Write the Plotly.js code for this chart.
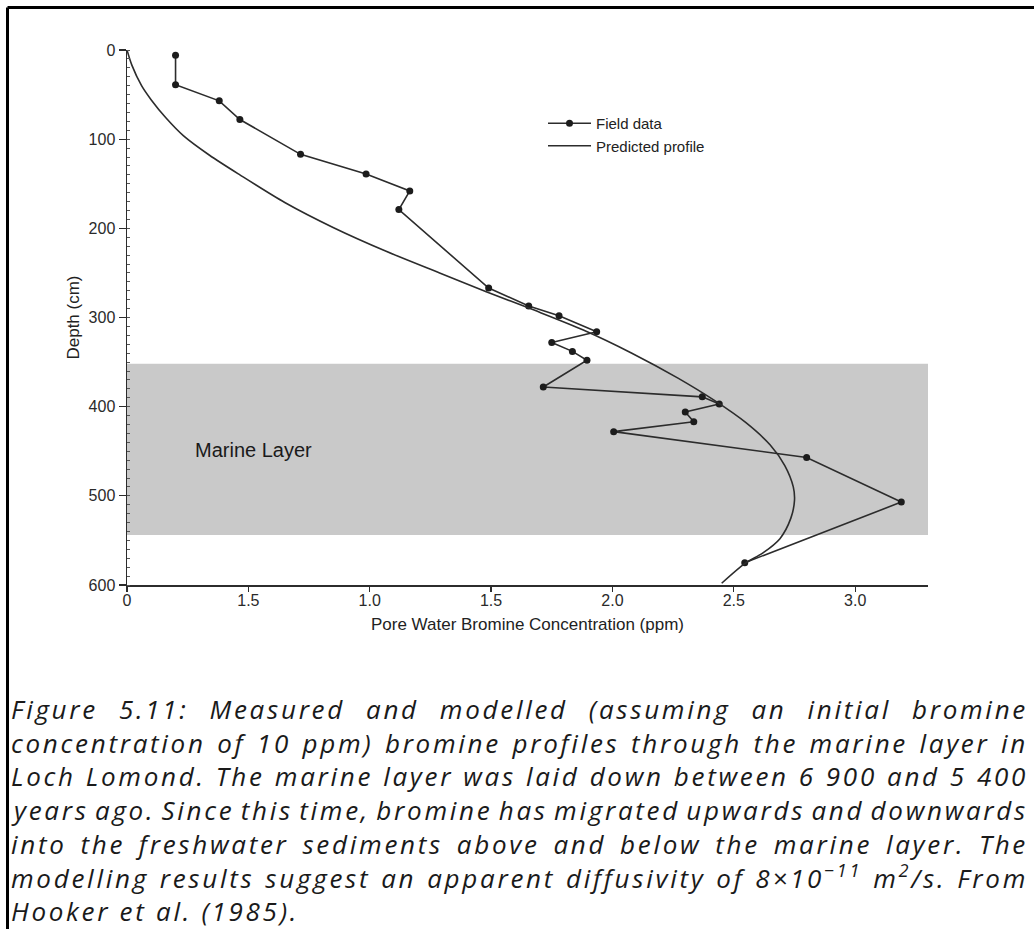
<!DOCTYPE html>
<html>
<head>
<meta charset="utf-8">
<script src="https://cdn.plot.ly/plotly-3.0.1.min.js"></script>
<style>
  html, body { margin: 0; padding: 0; background: #ffffff; }
  #chart { width: 1034px; height: 929px; }
</style>
</head>
<body>
<div id="chart"></div>
<script>
// ---------- data ----------
const fieldConc  = [0.20, 0.20, 0.38, 0.465, 0.715, 0.985, 1.165, 1.12, 1.49, 1.655, 1.78, 1.935, 1.75, 1.835, 1.895, 1.715, 2.37, 2.44, 2.30, 2.335, 2.005, 2.80, 3.19, 2.545];
const fieldDepth = [6, 39, 57, 78, 117, 139, 158, 179, 267, 287, 298, 316, 328, 338, 348, 378, 389, 397, 406, 417, 428, 457, 507, 575];

const predConc  = [0, 0.02, 0.06, 0.10, 0.16, 0.232, 0.34, 0.465, 0.65, 0.849, 1.07, 1.288, 1.48, 1.68, 1.88, 2.08, 2.27, 2.42, 2.55, 2.65, 2.71, 2.745, 2.75, 2.735, 2.69, 2.62, 2.545, 2.45];
const predDepth = [0, 17, 40, 56, 76, 96, 118, 140, 171, 199, 226, 250, 271, 292, 314, 340, 368, 393, 418, 443, 466, 490, 505, 525, 548, 564, 576, 598];

const marineLayerDepth = [352, 544];
const xTickVals = [0, 0.5, 1.0, 1.5, 2.0, 2.5, 3.0];
const xTickText = ['0', '1.5', '1.0', '1.5', '2.0', '2.5', '3.0'];
const yTickVals = [0, 100, 200, 300, 400, 500, 600];
const seriesNames = ['Field data', 'Predicted profile'];
const xTitle = 'Pore Water Bromine Concentration (ppm)';
const yTitle = 'Depth (cm)';
const layerLabel = 'Marine Layer';

const captionLines = [
  'Figure 5.11: Measured and modelled (assuming an initial bromine',
  'concentration of 10 ppm) bromine profiles through the marine layer in',
  'Loch Lomond. The marine layer was laid down between 6 900 and 5 400',
  'years ago. Since this time, bromine has migrated upwards and downwards',
  'into the freshwater sediments above and below the marine layer. The',
  'modelling results suggest an apparent diffusivity of 8×10<sup>−11</sup> m<sup>2</sup>/s. From',
  'Hooker et al. (1985).'
];

// ---------- geometry ----------
const W = 1034, H = 929;
const M = { l: 127, r: 106, t: 50, b: 344 };
const plotW = W - M.l - M.r, plotH = H - M.t - M.b;
const px2paperX = px => (px - M.l) / plotW;
const px2paperY = py => (H - M.b - py) / plotH;

const capFont = 'Open Sans';
const capSize = 26;
const capLeft = 10, capRight = 1027, lastLineRight = 298;
const lineYs = [709, 742.5, 776, 810, 843.5, 877, 911];
const captionAnns = captionLines.map((ln, i) => ({
  xref: 'paper', yref: 'paper', x: px2paperX(capLeft - 1), y: px2paperY(lineYs[i]),
  xanchor: 'left', yanchor: 'middle', showarrow: false, align: 'left',
  text: ln, font: { family: capFont, size: capSize, color: '#1a1a1a', style: 'italic' }
}));

const lineColor = '#2c2c2c';
const sansFamily = 'Liberation Sans, Arial, sans-serif';
const axisFont = { family: sansFamily, size: 16, color: '#2a2a2a' };

const traces = [
  {
    x: fieldConc, y: fieldDepth, name: seriesNames[0], type: 'scatter', mode: 'lines+markers',
    line: { color: lineColor, width: 1.6 },
    marker: { color: '#1c1c1c', size: 7 }
  },
  {
    x: predConc, y: predDepth, name: seriesNames[1], type: 'scatter', mode: 'lines',
    line: { color: lineColor, width: 1.6, shape: 'spline', smoothing: 0.8 }
  }
];

const layout = {
  width: W, height: H,
  margin: { l: M.l, r: M.r, t: M.t, b: M.b, pad: 0 },
  paper_bgcolor: '#ffffff', plot_bgcolor: 'rgba(0,0,0,0)',
  showlegend: true,
  legend: {
    x: px2paperX(543), y: px2paperY(107), xanchor: 'left', yanchor: 'top',
    itemwidth: 43,
    bgcolor: 'rgba(0,0,0,0)', font: { family: sansFamily, size: 15, color: '#222' }
  },
  xaxis: {
    range: [0, 3.3], showgrid: false, zeroline: false,
    showline: true, linecolor: lineColor, linewidth: 1.5,
    ticks: 'outside', ticklen: 5, tickwidth: 1.2, tickcolor: lineColor,
    ticklabelstandoff: -5,
    tickvals: xTickVals, ticktext: xTickText, tickfont: axisFont,
    title: { text: xTitle, font: { family: sansFamily, size: 17, color: '#222' }, standoff: 10 }
  },
  yaxis: {
    range: [600, 0], showgrid: false, zeroline: false,
    showline: true, linecolor: lineColor, linewidth: 1.5,
    ticks: 'outside', ticklen: 7, tickwidth: 1.2, tickcolor: lineColor,
    tickvals: yTickVals, tickfont: axisFont,
    minor: { dtick: 10, ticks: 'inside', ticklen: 3, tickcolor: '#555', tickwidth: 1, showgrid: false },
    title: { text: yTitle, font: { family: sansFamily, size: 17, color: '#222' }, standoff: 4 }
  },
  shapes: [
    { type: 'rect', xref: 'x', yref: 'y', layer: 'below', x0: 0, x1: 3.3,
      y0: marineLayerDepth[0], y1: marineLayerDepth[1], fillcolor: '#c9c9c9', line: { width: 0 } },
    { type: 'line', xref: 'paper', yref: 'paper', x0: px2paperX(7.5), x1: px2paperX(1040), y0: px2paperY(7.5), y1: px2paperY(7.5), line: { color: '#000', width: 3 } },
    { type: 'line', xref: 'paper', yref: 'paper', x0: px2paperX(7.5), x1: px2paperX(7.5), y0: px2paperY(7.5), y1: px2paperY(935), line: { color: '#000', width: 3 } }
  ],
  annotations: [
    { xref: 'x', yref: 'y', x: 0.52, y: 449, text: layerLabel, showarrow: false,
      font: { family: sansFamily, size: 20, color: '#1a1a1a' } }
  ].concat(captionAnns)
};

Plotly.newPlot('chart', traces, layout, { displayModeBar: false, staticPlot: true }).then(gd => {
  // letter spacing calibrated on the free (last) caption line, then full justification of lines 1-6
  const target = capRight - capLeft;
  const els = captionLines.map((_, i) => gd.querySelector(`g.annotation[data-index="${i + 1}"] text.annotation-text`));
  if (els.some(e => !e)) return;
  const plain = captionLines.map(l => l.replace(/<[^>]+>/g, ''));
  const last = els.length - 1;
  const wLast = els[last].getBBox().width;
  const ls = (lastLineRight - capLeft - wLast) / plain[last].length;
  els.forEach((el, i) => {
    el.style.letterSpacing = ls.toFixed(3) + 'px';
    if (i === last) return;
    const w = el.getBBox().width;
    const spaces = (plain[i].match(/ /g) || []).length;
    el.style.wordSpacing = ((target - w) / spaces).toFixed(3) + 'px';
  });
});
</script>
</body>
</html>
